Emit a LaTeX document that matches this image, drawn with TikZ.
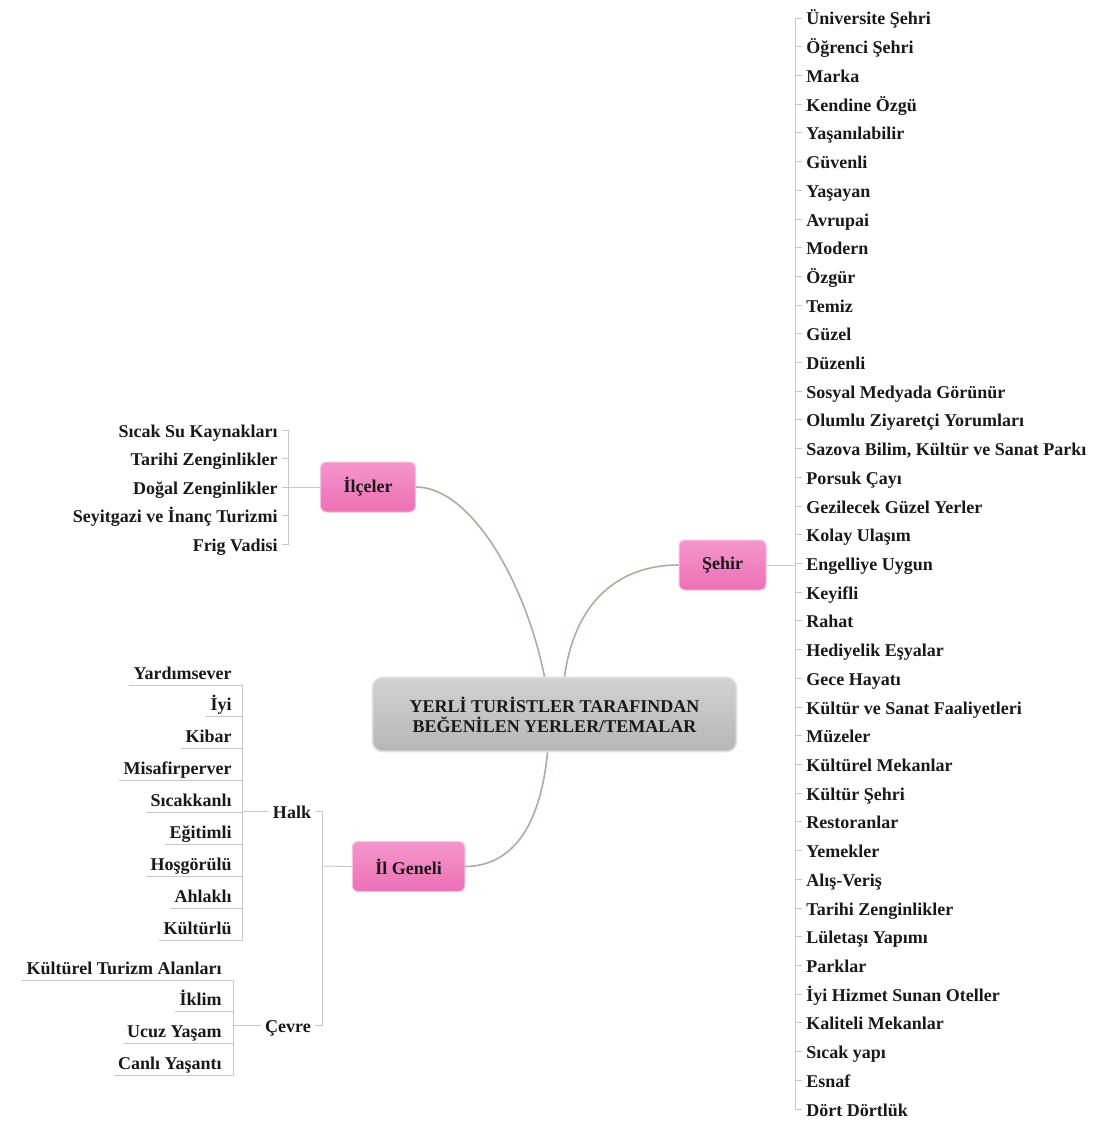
\documentclass[tikz,border=0pt]{standalone}
\usepackage{fontspec}
\setmainfont{Liberation Serif}
\usepackage{tikz}
\usetikzlibrary{calc}
\definecolor{mytext}{RGB}{25,25,25}
\definecolor{mypink}{RGB}{236,112,180}
\definecolor{mypinktop}{RGB}{245,150,205}
\definecolor{mygray}{RGB}{182,182,182}
\definecolor{mygraytop}{RGB}{210,210,210}
\definecolor{mycurve}{RGB}{184,166,164}
\definecolor{myspine}{RGB}{200,200,200}
\tikzset{
  central/.style={rectangle, top color=mygraytop, bottom color=mygray,
    draw=white!88!black, line width=0.8pt, rounded corners=5pt,
    minimum width=182pt, minimum height=37pt, align=center,
    font=\bfseries\fontsize{9}{10}\selectfont, text=mytext},
  topic/.style={rectangle, top color=mypinktop, bottom color=mypink,
    draw=mypinktop!60!white, line width=0.5pt, rounded corners=3pt,
    inner xsep=11.5pt, minimum height=25pt,
    font=\bfseries\fontsize{9}{10}\selectfont, text=mytext},
  sub/.style={font=\bfseries\fontsize{9}{10}\selectfont, text=mytext,
    inner xsep=2pt, inner ysep=1pt, text height=9pt, text depth=2pt},
  leaf/.style={sub, anchor=west},
  leftleaf/.style={sub, anchor=east},
  curve/.style={color=mycurve, line width=0.8pt},
  spine/.style={color=myspine, line width=0.5pt}
}

\begin{document}
\begin{tikzpicture}[x=0.5pt, y=-0.5pt]
  \useasboundingbox (0,0) rectangle (1104,1124);

  % Central topic
  \node[central] (merkez) at (554.5,714.5) {YERLİ TURİSTLER TARAFINDAN\\BEĞENİLEN YERLER/TEMALAR};

  % Main topics
  \node[topic] (ilceler) at (368,487) {İlçeler};
  \node[topic] (sehir) at (722.5,565) {Şehir};
  \node[topic] (ilgeneli) at (408.5,866.5) {İl Geneli};

  % Curves from the centre
  \draw[curve] ($(merkez.north)+(-10,0)$) .. controls (525,580) and (470,487) .. (ilceler.east);
  \draw[curve] ($(merkez.north)+(10,0)$) .. controls (575,600) and (620,565) .. (sehir.west);
  \draw[curve] ($(merkez.south)+(-7,0)$) .. controls (540,830) and (510,866) .. (ilgeneli.east);

  % Items of Ilceler
  \node[leftleaf] (i1) at (282,430) {Sıcak Su Kaynakları};
  \node[leftleaf] (i2) at (282,458) {Tarihi Zenginlikler};
  \node[leftleaf] (i3) at (282,487) {Doğal Zenginlikler};
  \node[leftleaf] (i4) at (282,515) {Seyitgazi ve İnanç Turizmi};
  \node[leftleaf] (i5) at (282,544) {Frig Vadisi};

  \coordinate (ilcej) at (288,487);
  \draw[spine] (ilceler.west) -- (ilcej);
  \foreach \k in {1,...,5} \draw[spine] (ilcej) |- (i\k.east);

  % Items of Sehir
  \node[leaf] (s1) at (802,18) {Üniversite Şehri};
  \node[leaf] (s2) at (802,46.7) {Öğrenci Şehri};
  \node[leaf] (s3) at (802,75.4) {Marka};
  \node[leaf] (s4) at (802,104.1) {Kendine Özgü};
  \node[leaf] (s5) at (802,132.8) {Yaşanılabilir};
  \node[leaf] (s6) at (802,161.6) {Güvenli};
  \node[leaf] (s7) at (802,190.3) {Yaşayan};
  \node[leaf] (s8) at (802,219) {Avrupai};
  \node[leaf] (s9) at (802,247.7) {Modern};
  \node[leaf] (s10) at (802,276.4) {Özgür};
  \node[leaf] (s11) at (802,305.1) {Temiz};
  \node[leaf] (s12) at (802,333.8) {Güzel};
  \node[leaf] (s13) at (802,362.5) {Düzenli};
  \node[leaf] (s14) at (802,391.2) {Sosyal Medyada Görünür};
  \node[leaf] (s15) at (802,419.9) {Olumlu Ziyaretçi Yorumları};
  \node[leaf] (s16) at (802,448.7) {Sazova Bilim, Kültür ve Sanat Parkı};
  \node[leaf] (s17) at (802,477.4) {Porsuk Çayı};
  \node[leaf] (s18) at (802,506.1) {Gezilecek Güzel Yerler};
  \node[leaf] (s19) at (802,534.8) {Kolay Ulaşım};
  \node[leaf] (s20) at (802,563.5) {Engelliye Uygun};
  \node[leaf] (s21) at (802,592.2) {Keyifli};
  \node[leaf] (s22) at (802,620.9) {Rahat};
  \node[leaf] (s23) at (802,649.6) {Hediyelik Eşyalar};
  \node[leaf] (s24) at (802,678.3) {Gece Hayatı};
  \node[leaf] (s25) at (802,707) {Kültür ve Sanat Faaliyetleri};
  \node[leaf] (s26) at (802,735.8) {Müzeler};
  \node[leaf] (s27) at (802,764.5) {Kültürel Mekanlar};
  \node[leaf] (s28) at (802,793.2) {Kültür Şehri};
  \node[leaf] (s29) at (802,821.9) {Restoranlar};
  \node[leaf] (s30) at (802,850.6) {Yemekler};
  \node[leaf] (s31) at (802,879.3) {Alış-Veriş};
  \node[leaf] (s32) at (802,908) {Tarihi Zenginlikler};
  \node[leaf] (s33) at (802,936.7) {Lületaşı Yapımı};
  \node[leaf] (s34) at (802,965.4) {Parklar};
  \node[leaf] (s35) at (802,994.1) {İyi Hizmet Sunan Oteller};
  \node[leaf] (s36) at (802,1022.9) {Kaliteli Mekanlar};
  \node[leaf] (s37) at (802,1051.6) {Sıcak yapı};
  \node[leaf] (s38) at (802,1080.3) {Esnaf};
  \node[leaf] (s39) at (802,1109) {Dört Dörtlük};

  \coordinate (sehirj) at (795,565);
  \draw[spine] (sehir.east) -- (sehirj);
  \foreach \k in {1,...,39} \draw[spine] (sehirj) |- (s\k.west);

  % Subtopics of Il Geneli
  \node[sub] (halk) at (292,811) {Halk};
  \node[sub] (cevre) at (288,1025) {Çevre};

  \coordinate (ilgenj) at (322,866);
  \draw[spine] (ilgeneli.west) -- (ilgenj);
  \draw[spine] (ilgenj) |- (halk.east);
  \draw[spine] (ilgenj) |- (cevre.east);

  % Items of Halk
  \node[leftleaf] (h1) at (236,672) {Yardımsever};
  \node[leftleaf] (h2) at (236,703) {İyi};
  \node[leftleaf] (h3) at (236,735) {Kibar};
  \node[leftleaf] (h4) at (236,767) {Misafirperver};
  \node[leftleaf] (h5) at (236,799) {Sıcakkanlı};
  \node[leftleaf] (h6) at (236,831) {Eğitimli};
  \node[leftleaf] (h7) at (236,863) {Hoşgörülü};
  \node[leftleaf] (h8) at (236,895) {Ahlaklı};
  \node[leftleaf] (h9) at (236,927) {Kültürlü};

  \coordinate (halkj) at (242,811);
  \draw[spine] (halk.west) -- (halkj);
  \foreach \k in {1,...,9} \draw[spine] (halkj) |- (h\k.south east) -- (h\k.south west);

  % Items of Cevre
  \node[leftleaf] (c1) at (226,967) {Kültürel Turizm Alanları};
  \node[leftleaf] (c2) at (226,998) {İklim};
  \node[leftleaf] (c3) at (226,1030) {Ucuz Yaşam};
  \node[leftleaf] (c4) at (226,1062) {Canlı Yaşantı};

  \coordinate (cevrej) at (233,1025);
  \draw[spine] (cevre.west) -- (cevrej);
  \foreach \k in {1,...,4} \draw[spine] (cevrej) |- (c\k.south east) -- (c\k.south west);
\end{tikzpicture}
\end{document}
